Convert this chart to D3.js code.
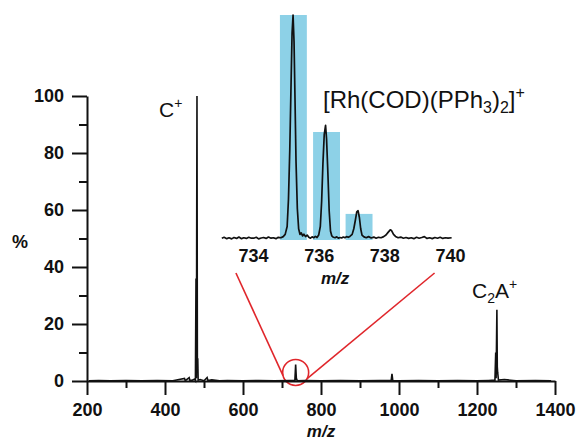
<!DOCTYPE html>
<html>
<head>
<meta charset="utf-8">
<script src="https://cdn.jsdelivr.net/npm/d3@7"></script>
<style>
  html, body { margin: 0; padding: 0; background: #fff; }
  svg { display: block; }
  text { font-family: "Liberation Sans", Arial, Helvetica, sans-serif; fill: #111; }
</style>
</head>
<body>
<svg id="chart" width="581" height="440"></svg>
<script>
// ---------- DATA ----------
// Main spectrum (m/z, relative intensity %)
const mainMz = [205, 230, 260, 300, 340, 380, 420, 450, 452, 462, 464, 470, 476, 478, 479.5, 480.5, 482, 483, 484, 485,
  490, 500, 508, 510, 520, 540, 560, 600, 640, 680, 720, 733, 735, 737, 737.5, 739, 760, 800, 850, 900, 950, 980, 982, 984,
  1000, 1050, 1100, 1150, 1200, 1230, 1246, 1248, 1249, 1251, 1252, 1253, 1255, 1270, 1300, 1350, 1390];
const mainPct = [0.1, 0.2, 0.1, 0.15, 0.1, 0.2, 0.1, 0.9, 0.1, 1.2, 0.1, 0.3, 0.7, 0.2, 36, 1, 100, 6, 8, 0.3,
  0.5, 0.1, 1.2, 0.2, 0.4, 0.1, 0.2, 0.1, 0.15, 0.1, 0.15, 0.2, 5.8, 0.3, 0.8, 0.1, 0.15, 0.1, 0.2, 0.1, 0.15, 0.2, 2.5, 0.2,
  0.1, 0.2, 0.1, 0.15, 0.1, 0.2, 0.3, 10, 1, 25, 5, 3, 0.3, 0.5, 0.1, 0.15, 0.1];

const xMajorTicks = [200, 400, 600, 800, 1000, 1200, 1400];
const xMinorTicks = [300, 500, 700, 900, 1100, 1300];
const yMajorTicks = [0, 20, 40, 60, 80, 100];
const yMinorTicks = [10, 30, 50, 70, 90];

// Inset: measured isotope pattern
const insetMz = [733.05, 733.12, 733.2, 733.27, 733.35, 733.42, 733.5, 733.57, 733.65, 733.72, 733.8, 733.87, 733.95,
  734.02, 734.1, 734.17, 734.25, 734.32, 734.4, 734.47, 734.55, 734.62, 734.7, 734.77, 734.85, 734.92,
  734.98, 735.04, 735.08, 735.12, 735.16, 735.19, 735.22, 735.25, 735.28, 735.31, 735.35, 735.39, 735.43, 735.47, 735.51, 735.55,
  735.60, 735.65, 735.70, 735.75, 735.80, 735.85, 735.90, 735.95,
  736.00, 736.05, 736.09, 736.13, 736.17, 736.21, 736.24, 736.28, 736.32, 736.36, 736.40, 736.45, 736.50, 736.55,
  736.60, 736.65, 736.70, 736.75, 736.80, 736.85, 736.90, 736.95,
  737.02, 737.07, 737.12, 737.16, 737.20, 737.24, 737.28, 737.32, 737.38, 737.45, 737.52, 737.60, 737.68, 737.75,
  737.82, 737.90, 737.98, 738.05, 738.12, 738.18, 738.22, 738.28, 738.34, 738.42, 738.50, 738.58, 738.66, 738.74,
  738.82, 738.90, 738.98, 739.06, 739.14, 739.22, 739.30, 739.38, 739.46, 739.54, 739.62, 739.70, 739.78, 739.86,
  739.94, 740.05];
const insetPct = [0.8, 1.2, 0.6, 1.0, 0.5, 1.1, 0.7, 1.3, 0.6, 1.0, 0.7, 1.2, 0.8,
  0.8, 1.2, 0.5, 0.9, 1.1, 0.7, 1.3, 0.8, 1.0, 0.6, 1.2, 1.0, 1.5,
  2.5, 6, 18, 40, 70, 92, 100, 88, 62, 35, 14, 5, 2.5, 3.2, 1.8, 2.6,
  1.5, 2.2, 1.2, 0.8, 1.4, 1.0, 1.6, 1.1,
  2.2, 6, 17, 34, 47, 51, 45, 30, 13, 4, 1.8, 1.2, 1.0, 1.4,
  0.8, 1.1, 0.9, 1.3, 1.0, 1.5, 1.2, 1.6,
  2.5, 5, 9, 12.5, 13, 10, 5, 2.2, 1.4, 1.0, 1.5, 0.9, 1.3, 0.8,
  1.2, 1.0, 1.5, 2.2, 3.5, 4.5, 4.2, 2.5, 1.6, 1.0, 1.3, 0.8, 1.1, 0.7,
  1.0, 0.6, 1.2, 0.8, 1.1, 1.5, 0.7, 1.0, 0.6, 1.1, 0.8, 1.2, 0.7, 1.0,
  0.8, 1.0];

// Inset: simulated isotope pattern (bars)
const simMz = [735.23, 736.24, 737.23];
const simPct = [100, 48, 11.6];
const simWidth = 0.82;

const insetTicks = [734, 736, 738, 740];

// ---------- SCALES ----------
const svg = d3.select("#chart");
const x = d3.scaleLinear().domain([200, 1400]).range([87, 555]);
const y = d3.scaleLinear().domain([0, 100]).range([381, 96]);
const xi = d3.scaleLinear().domain([734, 740]).range([253, 450]);
const yi = d3.scaleLinear().domain([0, 100]).range([240, 15]);
const fmt = d3.format("d");

// ---------- INSET ----------
const gi = svg.append("g");
gi.selectAll("rect.sim").data(simMz).join("rect")
  .attr("class", "sim")
  .attr("x", (d) => xi(d - simWidth / 2))
  .attr("width", xi(simWidth) - xi(0))
  .attr("y", (d, i) => yi(simPct[i]))
  .attr("height", (d, i) => yi(0) - yi(simPct[i]))
  .attr("fill", "#8dd1e7");

const insetLine = d3.line().x((d) => xi(d[0])).y((d) => yi(d[1]));
gi.append("path")
  .datum(insetMz.map((m, i) => [m, insetPct[i]]))
  .attr("d", insetLine)
  .attr("fill", "none")
  .attr("stroke", "#111")
  .attr("stroke-width", 1.7)
  .attr("stroke-linejoin", "round");

const insetAxis = gi.append("g")
  .attr("transform", `translate(0,${yi(0) - 1})`)
  .call(d3.axisBottom(xi).tickValues(insetTicks).tickFormat(fmt).tickSize(0).tickPadding(10));
insetAxis.select(".domain").remove();
insetAxis.selectAll("text").attr("font-size", 18).attr("font-weight", "bold")
  .style("font-family", '"Liberation Sans", Arial, sans-serif').attr("fill", "#111");

gi.append("text")
  .attr("x", xi(736.5)).attr("y", 284)
  .attr("text-anchor", "middle")
  .attr("font-size", 17).attr("font-weight", "bold").attr("font-style", "italic")
  .text("m/z");

const rhLabel = gi.append("text").attr("x", 323).attr("y", 108).attr("font-size", 24);
rhLabel.append("tspan").text("[Rh(COD)(PPh");
rhLabel.append("tspan").attr("font-size", 16).attr("dy", 5).text("3");
rhLabel.append("tspan").attr("dy", -5).text(")");
rhLabel.append("tspan").attr("font-size", 16).attr("dy", 5).text("2");
rhLabel.append("tspan").attr("dy", -5).text("]");
rhLabel.append("tspan").attr("font-size", 16).attr("dy", -10).text("+");

// ---------- ANNOTATION (zoom circle + lines) ----------
const circ = { mz: 735, pct: 3, r: 13 };
const cx = x(circ.mz), cy = y(circ.pct);
const red = "#e0262b";
svg.append("circle").attr("cx", cx).attr("cy", cy).attr("r", circ.r)
  .attr("fill", "none").attr("stroke", red).attr("stroke-width", 1.6);
const leftAng = 166 * Math.PI / 180, rightAng = 28 * Math.PI / 180;
svg.append("line")
  .attr("x1", xi(733.48)).attr("y1", 273)
  .attr("x2", cx + circ.r * Math.cos(leftAng)).attr("y2", cy + circ.r * Math.sin(leftAng))
  .attr("stroke", red).attr("stroke-width", 1.6);
svg.append("line")
  .attr("x1", xi(739.53)).attr("y1", 273)
  .attr("x2", cx + circ.r * Math.cos(rightAng)).attr("y2", cy + circ.r * Math.sin(rightAng))
  .attr("stroke", red).attr("stroke-width", 1.6);

// ---------- MAIN AXES ----------
function styleAxis(g) {
  g.select(".domain").attr("stroke", "#111").attr("stroke-width", 2);
  g.selectAll(".tick line").attr("stroke", "#111").attr("stroke-width", 2);
  g.selectAll("text").attr("font-size", 18).attr("font-weight", "bold")
    .style("font-family", '"Liberation Sans", Arial, sans-serif').attr("fill", "#111");
}
const xAxisG = svg.append("g").attr("transform", `translate(0,${y(0)})`)
  .call(d3.axisBottom(x).tickValues(xMajorTicks).tickFormat(fmt).tickSize(14).tickPadding(8).tickSizeOuter(0));
styleAxis(xAxisG);
const xMinorG = svg.append("g").attr("transform", `translate(0,${y(0)})`)
  .call(d3.axisBottom(x).tickValues(xMinorTicks).tickSize(7).tickFormat("").tickSizeOuter(0));
styleAxis(xMinorG);
xMinorG.select(".domain").remove();

const yAxisG = svg.append("g").attr("transform", `translate(${x(200)},0)`)
  .call(d3.axisLeft(y).tickValues(yMajorTicks).tickFormat(fmt).tickSize(15).tickPadding(8).tickSizeOuter(0));
styleAxis(yAxisG);
const yMinorG = svg.append("g").attr("transform", `translate(${x(200)},0)`)
  .call(d3.axisLeft(y).tickValues(yMinorTicks).tickSize(8).tickFormat("").tickSizeOuter(0));
styleAxis(yMinorG);
yMinorG.select(".domain").remove();

// ---------- MAIN SPECTRUM ----------
const mainLine = d3.line().x((d) => x(d[0])).y((d) => y(d[1]));
svg.append("path")
  .datum(mainMz.map((m, i) => [m, mainPct[i]]))
  .attr("d", mainLine)
  .attr("fill", "none")
  .attr("stroke", "#111")
  .attr("stroke-width", 1.6)
  .attr("stroke-linejoin", "miter");

// Axis titles
svg.append("text").attr("x", 20).attr("y", 248).attr("text-anchor", "middle")
  .attr("font-size", 18).attr("font-weight", "bold").text("%");
svg.append("text").attr("x", x(800)).attr("y", 437).attr("text-anchor", "middle")
  .attr("font-size", 17).attr("font-weight", "bold").attr("font-style", "italic").text("m/z");

// Peak labels
const cLabel = svg.append("text").attr("x", 159).attr("y", 117).attr("font-size", 21);
cLabel.append("tspan").text("C");
cLabel.append("tspan").attr("font-size", 14).attr("dy", -9).text("+");

const c2aLabel = svg.append("text").attr("x", 472).attr("y", 298).attr("font-size", 21);
c2aLabel.append("tspan").text("C");
c2aLabel.append("tspan").attr("font-size", 14).attr("dy", 5).text("2");
c2aLabel.append("tspan").attr("dy", -5).text("A");
c2aLabel.append("tspan").attr("font-size", 14).attr("dy", -9).text("+");
</script>
</body>
</html>
